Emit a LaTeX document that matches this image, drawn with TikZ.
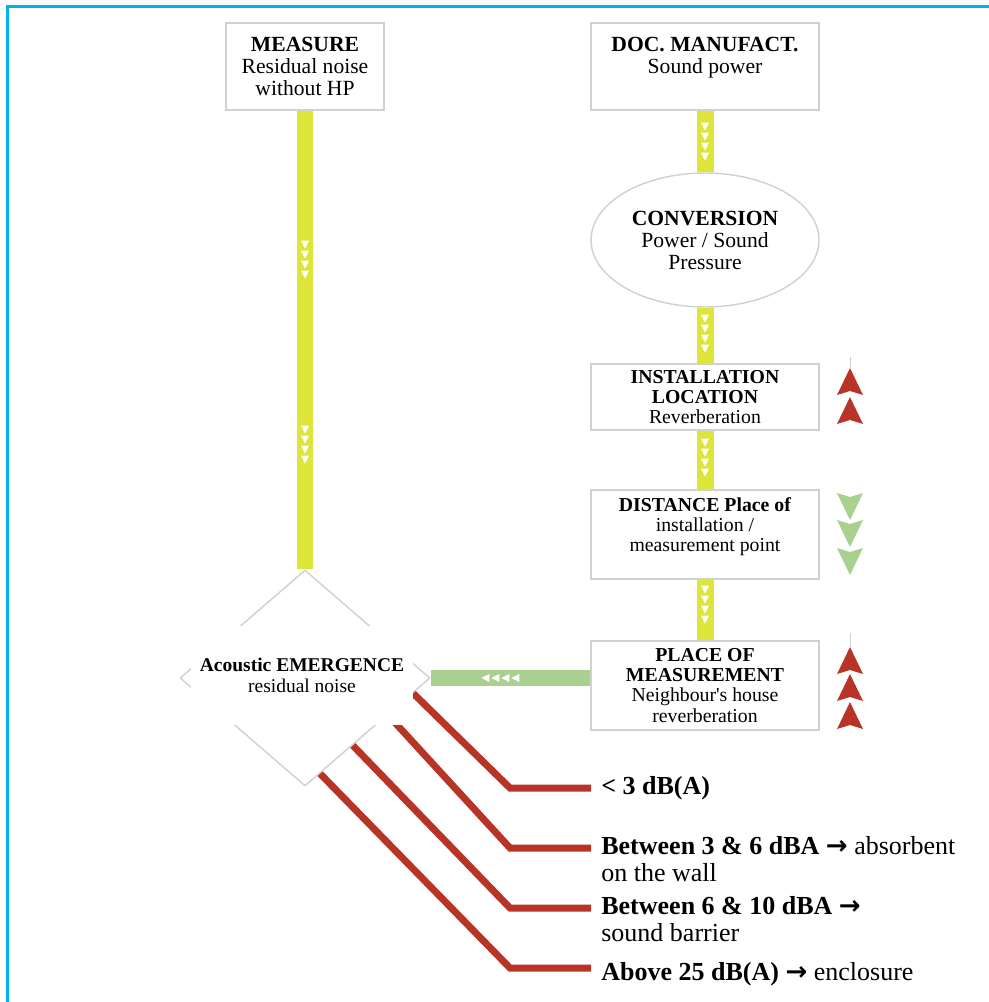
\documentclass[tikz,border=0pt]{standalone}
\usepackage{fontspec}
\setmainfont{Liberation Serif}
\newfontfamily\arrowfont{DejaVu Sans}
\usetikzlibrary{calc,positioning,shapes.geometric,backgrounds}

\definecolor{frameblue}{RGB}{0,176,240}
\definecolor{flowyellow}{RGB}{221,228,58}
\definecolor{flowgreen}{RGB}{169,208,142}
\definecolor{noisered}{RGB}{184,52,38}
\definecolor{boxgrey}{RGB}{208,208,208}

\newcommand{\thenarrow}{{\arrowfont\bfseries →}}

\tikzset{
  stepbox/.style={draw=boxgrey,line width=0.8pt,fill=white,align=center,inner sep=1pt,
    font=\fontsize{11.25}{11.4}\selectfont},
  bigtxt/.style={font=\fontsize{12.3}{12.5}\selectfont},
  flow/.style={draw=flowyellow,line width=0.34cm},
  flowh/.style={draw=flowgreen,line width=0.32cm},
  level/.style={draw=noisered,line width=0.14cm},
  leveltxt/.style={align=left,inner xsep=0.2cm,inner ysep=0pt,
    font=\fontsize{14.8}{15.4}\selectfont},
  chevd/.pic={\fill[white] (-4,0) -- (4,0) -- (0,8) -- cycle;},
  chevl/.pic={\fill[white] (0,-4) -- (0,4) -- (-8,0) -- cycle;},
  headup/.pic={\fill (0,0) -- (13,27) -- (0,23) -- (-13,27) -- cycle;},
  headdown/.pic={\fill (0,27) -- (13,0) -- (0,4) -- (-13,0) -- cycle;},
}

\begin{document}
\begin{tikzpicture}[x=0.02cm,y=-0.02cm]
  \useasboundingbox (0,0) rectangle (989,1002);
  \draw[frameblue,line width=0.05cm] (7.5,1002) -- (7.5,6.5) -- (989,6.5);

  % steps
  \node[stepbox,bigtxt,minimum width=3.16cm,minimum height=1.74cm] (meas) at (305,66.5)
       {\textbf{MEASURE}\\Residual noise\\without HP};
  \node[stepbox,bigtxt,minimum width=4.56cm,minimum height=1.74cm] (doc) at (705,66.5)
       {\textbf{DOC. MANUFACT.}\\Sound power\\\mbox{}};
  \node[stepbox,bigtxt,ellipse,minimum width=4.56cm,minimum height=2.68cm] (conv) at (705,240)
       {\textbf{CONVERSION}\\Power / Sound\\Pressure};
  \node[stepbox,minimum width=4.56cm,minimum height=1.32cm] (inst) at (705,397)
       {\textbf{INSTALLATION}\\\textbf{LOCATION}\\Reverberation};
  \node[stepbox,minimum width=4.56cm,minimum height=1.78cm] (dist) at (705,534.5)
       {\textbf{DISTANCE Place of}\\installation /\\measurement point\\\mbox{}};
  \node[stepbox,minimum width=4.56cm,minimum height=1.78cm] (place) at (705,685.5)
       {\textbf{PLACE OF}\\\textbf{MEASUREMENT}\\Neighbour\textquotesingle s house\\reverberation};
  \node[draw=boxgrey,line width=0.8pt,fill=white,diamond,inner sep=0pt,
        minimum width=5cm,minimum height=4.32cm] (emerg) at (305,678) {};
  \node[fill=white,align=center,inner sep=0pt,minimum width=4.46cm,minimum height=1.98cm,
        font=\fontsize{11.1}{12}\selectfont] (emergtxt) at (302,675)
       {\textbf{Acoustic EMERGENCE}\\residual noise};

  \begin{scope}[on background layer]
    \draw[flow] (meas) -- (emerg);
    \draw[flow] (doc) -- (conv);
    \draw[flow] (conv) -- (inst);
    \draw[flow] (inst) -- (dist);
    \draw[flow] (dist) -- (place);
    \draw[flowh] (place.west |- emerg) -- (emerg);
    \foreach \d in {130,140,150,160,315,325,335,345}
      \pic at ($(meas.south)+(0,\d)$) {chevd};
    \foreach \d in {12,22,32,42} \pic at ($(doc.south)+(0,\d)$) {chevd};
    \foreach \d in {7,17,27,37} \pic at ($(conv.south)+(0,\d)$) {chevd};
    \foreach \d in {8,18,28,38} \pic at ($(inst.south)+(0,\d)$) {chevd};
    \foreach \d in {6,16,26,36} \pic at ($(dist.south)+(0,\d)$) {chevd};
    \foreach \d in {101,91,81,71} \pic at ($(place.west |- emerg)+(-\d,0)$) {chevl};
    % emergence levels
    \foreach \t/\yy [count=\i] in {0.14/788,0.34/848,0.62/908,0.88/968}{
      \coordinate (e\i) at (591,\yy);
      \draw[level] ($(emerg.east)!\t!(emerg.south)$) -- (510,\yy) -- (e\i);
    }
  \end{scope}

  \node[leveltxt,anchor=west] (lvl1) at (e1) {\textbf{< 3 dB(A)}};
  \node[leveltxt,anchor=north west] (lvl2) at ($(e2)+(0,-12)$)
       {\textbf{Between 3 \& 6 dBA \thenarrow} absorbent\\on the wall};
  \node[leveltxt,anchor=north west] (lvl3) at ($(e3)+(0,-12)$)
       {\textbf{Between 6 \& 10 dBA \thenarrow}\\sound barrier};
  \node[leveltxt,anchor=west] (lvl4) at ($(e4)+(0,6)$)
       {\textbf{Above 25 dB(A) \thenarrow} enclosure};

  % trend marks
  \draw[boxgrey] (850,357) -- (850,368);
  \foreach \yy in {368,397} \pic[noisered] at (850,\yy) {headup};
  \foreach \yy in {493,520,548} \pic[flowgreen] at (850,\yy) {headdown};
  \draw[boxgrey] (850,633) -- (850,647);
  \foreach \yy in {647,674,702} \pic[noisered] at (850,\yy) {headup};
\end{tikzpicture}
\end{document}
